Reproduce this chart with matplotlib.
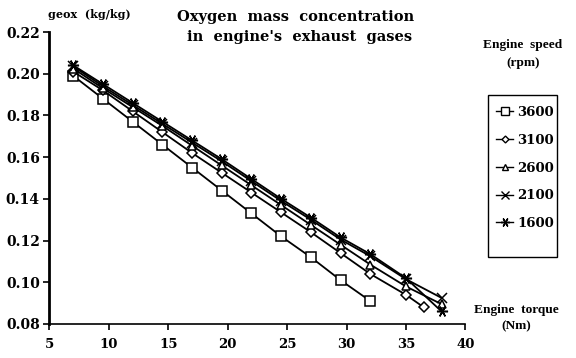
import matplotlib
matplotlib.use("Agg")
import matplotlib.pyplot as plt
from matplotlib.lines import Line2D
from matplotlib.patches import Rectangle

plt.rcParams['font.family'] = ['DejaVu Serif']
plt.rcParams['font.weight'] = 'bold'

# Data
torque_3600 = [7, 9.5, 12, 14.5, 17, 19.5, 22, 24.5, 27, 29.5, 32]
geox_3600 = [0.199, 0.188, 0.177, 0.166, 0.155, 0.144, 0.133, 0.122, 0.112, 0.101, 0.091]

torque_3100 = [7, 9.5, 12, 14.5, 17, 19.5, 22, 24.5, 27, 29.5, 32, 35, 36.5]
geox_3100 = [0.201, 0.192, 0.182, 0.172, 0.162, 0.1525, 0.143, 0.1335, 0.124, 0.114, 0.104, 0.094, 0.088]

torque_2600 = [7, 9.5, 12, 14.5, 17, 19.5, 22, 24.5, 27, 29.5, 32, 35, 38]
geox_2600 = [0.2025, 0.193, 0.184, 0.175, 0.1655, 0.156, 0.1465, 0.137, 0.1275, 0.118, 0.1085, 0.098, 0.0895]

torque_2100 = [7, 9.5, 12, 14.5, 17, 19.5, 22, 24.5, 27, 29.5, 32, 35, 38]
geox_2100 = [0.2035, 0.194, 0.185, 0.176, 0.167, 0.158, 0.1485, 0.139, 0.130, 0.1205, 0.1125, 0.1015, 0.0925]

torque_1600 = [7, 9.5, 12, 14.5, 17, 19.5, 22, 24.5, 27, 29.5, 32, 35, 38]
geox_1600 = [0.204, 0.195, 0.186, 0.177, 0.168, 0.159, 0.1495, 0.140, 0.131, 0.1215, 0.1135, 0.102, 0.086]

series_labels = ['3600', '3100', '2600', '2100', '1600']
x_ticks = [5, 10, 15, 20, 25, 30, 35, 40]
y_ticks = [0.08, 0.10, 0.12, 0.14, 0.16, 0.18, 0.20, 0.22]

fig = plt.figure(figsize=(5.76, 3.58), dpi=100)
ax = fig.add_axes([0.0859, 0.095, 0.722, 0.8156])

markers = ['s', 'D', '^', 'x', (6, 2, 90)]
msizes = [7, 5, 6, 7, 8]
data = [(torque_3600, geox_3600), (torque_3100, geox_3100), (torque_2600, geox_2600),
        (torque_2100, geox_2100), (torque_1600, geox_1600)]

handles = []
for (tx, gy), lab, m, ms in zip(data, series_labels, markers, msizes):
    ax.plot(tx, gy, color='black', lw=1.3, marker=m, ms=ms,
            mfc='white', mec='black', mew=1.1, zorder=3)
    handles.append(Line2D([0], [0], color='black', lw=1.0, marker=m, ms=ms - 1.5,
                          mfc='white', mec='black', mew=1.0, label=lab))

ax.set_xlim(5, 40)
ax.set_ylim(0.08, 0.22)
ax.set_xticks(x_ticks)
ax.set_yticks(y_ticks)
ax.set_xticklabels([str(v) for v in x_ticks], fontsize=9.5, fontweight='bold')
ax.set_yticklabels([f'{v:.2f}' for v in y_ticks], fontsize=10, fontweight='bold')
ax.spines['top'].set_visible(False)
ax.spines['right'].set_visible(False)
ax.spines['left'].set_linewidth(2.0)
ax.spines['bottom'].set_linewidth(1.2)
ax.tick_params(axis='both', direction='out', length=4, width=1.2)
ax.tick_params(axis='x', pad=6)
ax.tick_params(axis='y', pad=3)

serif_b = {'family': 'Liberation Serif', 'weight': 'bold'}
fig.text(48 / 576, 1 - 15 / 358, 'geox  (kg/kg)', fontsize=8, fontweight='bold',
         ha='left', va='center')
fig.text(296 / 576, 1 - 17 / 358, 'Oxygen  mass  concentration', fontsize=10.5,
         fontweight='bold', ha='center', va='center')
fig.text(300 / 576, 1 - 37 / 358, "in  engine's  exhaust  gases", fontsize=10.5,
         fontweight='bold', ha='center', va='center')
fig.text(523 / 576, 1 - 45 / 358, 'Engine  speed', fontsize=9.6, ha='center',
         va='center', **serif_b)
fig.text(523 / 576, 1 - 63 / 358, '(rpm)', fontsize=9.6, ha='center', va='center', **serif_b)
fig.text(516 / 576, 1 - 310 / 358, 'Engine  torque', fontsize=9.6, ha='center',
         va='center', **serif_b)
fig.text(516 / 576, 1 - 326 / 358, '(Nm)', fontsize=9.6, ha='center', va='center', **serif_b)

leg = fig.legend(handles=handles, loc='upper left',
                 bbox_to_anchor=(496 / 576, 1 - 106 / 358),
                 frameon=False,
                 prop={'family': 'DejaVu Serif', 'weight': 'bold', 'size': 9.5},
                 handlelength=1.3, handletextpad=0.3, labelspacing=1.12,
                 borderpad=0, borderaxespad=0)
fig.patches.append(Rectangle((488 / 576, 1 - 257 / 358), 69 / 576, 162 / 358,
                             transform=fig.transFigure, fill=False,
                             edgecolor='black', lw=1.0))

fig.savefig('out.png', dpi=100)
